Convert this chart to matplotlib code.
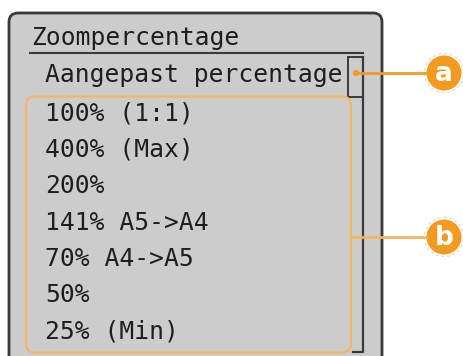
import matplotlib
matplotlib.use("Agg")
import matplotlib.pyplot as plt
from matplotlib.patches import FancyBboxPatch, Circle, Rectangle

# screen content
title = "Zoompercentage"
first_item = "Aangepast percentage"
items = ["100% (1:1)", "400% (Max)", "200%", "141% A5->A4",
         "70% A4->A5", "50%", "25% (Min)"]
callouts = ["a", "b"]

W, H = 463, 356
GRAY = "#cccccc"
DARK = "#3a3a3a"
ORANGE = "#f39a21"
ORANGE_LIGHT = "#f8b460"
FS = 17.7

fig = plt.figure(figsize=(W / 100, H / 100), dpi=100)
ax = fig.add_axes([0, 0, 1, 1])
ax.set_xlim(0, W)
ax.set_ylim(H, 0)
ax.axis("off")

# outer panel (bottom runs off the image)
ax.add_patch(FancyBboxPatch((9, 13), 373, 370, boxstyle="round,pad=0,rounding_size=9",
                            fc=GRAY, ec=DARK, lw=2.0))

# title and underline
ax.text(31, 38, title, fontsize=FS, family="DejaVu Sans Mono", va="center", color="#1e1e1e")
ax.plot([30, 363], [52.5, 52.5], color=DARK, lw=1.5)

# scrollbar
ax.plot([363, 363, 353], [57, 352, 352], color=DARK, lw=1.6)
ax.add_patch(Rectangle((347.5, 57), 15.5, 40, fc="none", ec=DARK, lw=1.4))

# list
row_h = 36.5
ax.text(45, 75, first_item, fontsize=FS, family="DejaVu Sans Mono", va="center", color="#1e1e1e")
for i, label in enumerate(items):
    ax.text(45, 113 + i * row_h, label, fontsize=FS, family="DejaVu Sans Mono",
            va="center", color="#1e1e1e")

# orange group box
ax.add_patch(FancyBboxPatch((26, 96.5), 325, 256, boxstyle="round,pad=0,rounding_size=9",
                            fc="none", ec=ORANGE_LIGHT, lw=1.6))

# callouts
a_y, b_y = 73, 237
ax.plot([356, 426], [a_y, a_y], color=ORANGE, lw=2.0)
ax.add_patch(Circle((356, a_y), 3.2, fc=ORANGE, ec="none"))
ax.plot([351, 426], [b_y, b_y], color=ORANGE_LIGHT, lw=2.0)
for cy, lab in zip([a_y, b_y], callouts):
    ax.add_patch(Circle((444, cy), 19.5, fc="none", ec="#dddddd", lw=1.0, ls=(0, (2, 2))))
    ax.add_patch(Circle((444, cy), 17.5, fc=ORANGE, ec="none"))
    ax.text(444, cy + 1, lab, fontsize=19, family="DejaVu Sans", color="white",
            ha="center", va="center", fontweight="semibold")

fig.savefig("out.png", dpi=100)
